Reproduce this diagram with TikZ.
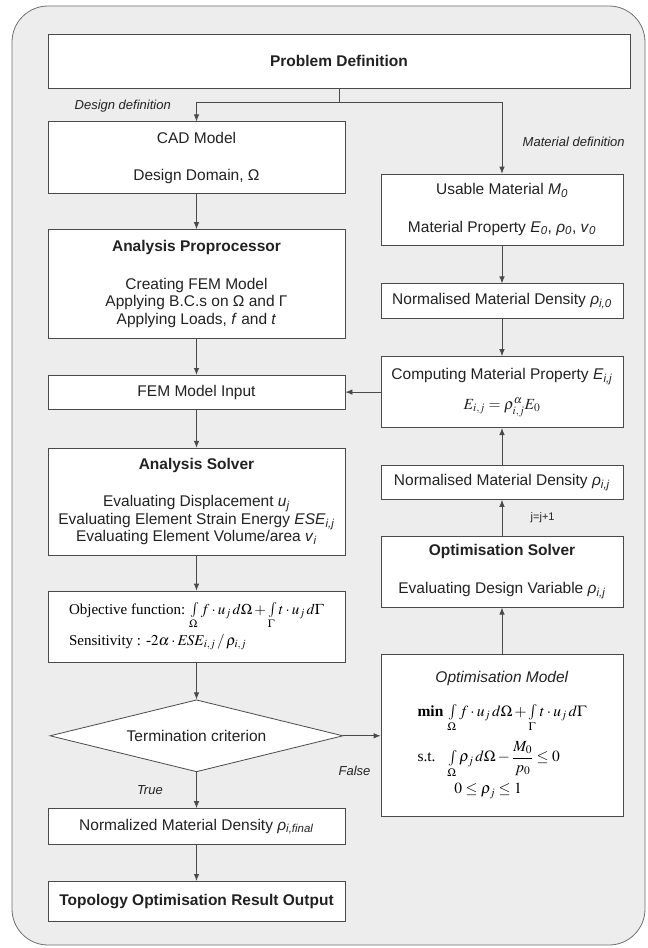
\documentclass[tikz,border=0pt]{standalone}
\usepackage{amsmath}
\usepackage{mathptmx}
\usepackage[no-math]{fontspec}
\setmainfont{Liberation Sans}
\newfontfamily\timesfont{Liberation Serif}
\usepackage{tikz}
\usetikzlibrary{arrows.meta,positioning,shapes.geometric}
\definecolor{pagebg}{HTML}{EDEDED}
\definecolor{frameline}{HTML}{707070}
\definecolor{boxline}{HTML}{4A4A4A}
\definecolor{inkgray}{HTML}{222222}
\newcommand{\vsub}[2]{\textit{#1}\textsubscript{\textit{#2}}}

\begin{document}
\begin{tikzpicture}[x=1pt,y=-1pt,
    box/.style={draw=boxline,fill=white,line width=0.8pt,minimum width=297pt,
                inner sep=2pt,align=center,text=inkgray,
                font=\fontsize{15.5}{17.5}\selectfont},
    rbox/.style={box,minimum width=242pt},
    decision/.style={diamond,draw=boxline,fill=white,line width=0.8pt,aspect=4,
                     minimum width=293pt,minimum height=72pt,inner sep=0pt,
                     text=inkgray,font=\fontsize{15.5}{17.5}\selectfont},
    arr/.style={draw=boxline,line width=0.8pt,-{Latex[length=7pt,width=5.5pt]}},
    link/.style={draw=boxline,line width=0.8pt},
    lbl/.style={text=inkgray,font=\itshape\fontsize{13}{15}\selectfont}]
  \useasboundingbox (0,0) rectangle (648,948);
  \draw[fill=pagebg,draw=frameline,line width=0.8pt,rounded corners=36pt]
    (12,6) rectangle (645,945);

  % left column
  \node[box,minimum width=582pt,minimum height=54pt] (prob) at (339,61)
    {\textbf{Problem Definition}};
  \node[box,minimum height=72pt,below=33pt of prob.south west,anchor=north west] (cad)
    {CAD Model\\[20pt]Design Domain, Ω};
  \node[box,minimum height=109pt,below=35pt of cad] (pre)
    {\textbf{Analysis Proprocessor}\\[20pt]
     Creating FEM Model\\
     Applying B.C.s on Ω and Γ\\
     Applying Loads, \textit{f} and \textit{t}};
  \node[box,minimum height=34pt,below=36pt of pre] (fem) {FEM Model Input};
  \node[box,minimum height=107pt,below=38pt of fem] (solv)
    {\textbf{Analysis Solver}\\[20pt]
     Evaluating Displacement \vsub{u}{j}\\
     Evaluating Element Strain Energy \vsub{ESE}{i,j}\\
     Evaluating Element Volume/area \vsub{v}{i}};
  \node[box,minimum height=71pt,below=35pt of solv,align=left,
        font=\timesfont\fontsize{15}{17}\selectfont,text=black] (obj)
    {Objective function: $\int\limits_{\Omega} f\cdot u_j\,d\Omega+\int\limits_{\Gamma} t\cdot u_j\,d\Gamma$\\[4pt]
     Sensitivity : $\text{-}2\alpha\cdot \mathit{ESE}_{i,j}\,/\,\rho_{i,j}$};
  \node[decision,below=37pt of obj] (term) {Termination criterion};
  \node[box,minimum height=36pt,below=36pt of term] (fin)
    {Normalized Material Density \vsub{ρ}{i,final}};
  \node[box,minimum height=40pt,below=36pt of fin] (topo)
    {\textbf{Topology Optimisation Result Output}};

  % right column
  \node[rbox,minimum height=71pt] (use) at (502,209.5)
    {Usable Material \vsub{M}{0}\\[20pt]Material Property \vsub{E}{0}, \vsub{ρ}{0}, \vsub{v}{0}};
  \node[rbox,minimum height=35pt,below=38pt of use] (rhozero)
    {Normalised Material Density \vsub{ρ}{i,0}};
  \node[rbox,minimum height=71pt,below=37pt of rhozero] (comp)
    {Computing Material Property \vsub{E}{i,j}\\[13pt]
     $E_{i,j}=\rho_{i,j}^{\alpha}E_0$};
  \node[rbox,minimum height=34pt,below=37pt of comp] (rhoij)
    {Normalised Material Density \vsub{ρ}{i,j}};
  \node[rbox,minimum height=71pt,below=36pt of rhoij] (osol)
    {\textbf{Optimisation Solver}\\[20pt]Evaluating Design Variable \vsub{ρ}{i,j}};
  \node[rbox,minimum height=162pt,below=46pt of osol] (omod)
    {\textit{Optimisation Model}\\[18pt]
     {\timesfont\color{black}%
     \begin{tabular}{@{}l@{\hspace{5pt}}l@{}}
       \textbf{min} & $\int\limits_{\Omega} f\cdot u_j\,d\Omega+\int\limits_{\Gamma} t\cdot u_j\,d\Gamma$\\
       \noalign{\vskip 9pt}
       s.t. & $\int\limits_{\Omega}\rho_j\,d\Omega-\dfrac{M_0}{p_0}\le 0$\\
       \noalign{\vskip 4pt}
            & \hspace{6pt}$0\le\rho_j\le 1$
     \end{tabular}}};

  % connectors
  \draw[link] (prob.south) -- ++(0,14) coordinate (split);
  \draw[arr] (split) -| node[lbl,pos=.5,left=22pt,yshift=-4pt] {Design definition} (cad.north);
  \draw[arr] (split) -| node[lbl,pos=.75,right=17pt,yshift=-4pt] {Material definition} (use.north);
  \draw[arr] (cad) -- (pre);
  \draw[arr] (pre) -- (fem);
  \draw[arr] (fem) -- (solv);
  \draw[arr] (solv) -- (obj);
  \draw[arr] (obj) -- (term);
  \draw[arr] (term) -- node[lbl,left=30pt] {True} (fin);
  \draw[arr] (fin) -- (topo);
  \draw[arr] (use) -- (rhozero);
  \draw[arr] (rhozero) -- (comp);
  \draw[arr] (comp.west) -- (comp.west -| fem.east);
  \draw[arr] (rhoij) -- (comp);
  \draw[arr] (osol) -- node[right=25pt,text=inkgray,font=\fontsize{11}{13}\selectfont] {j=j+1} (rhoij);
  \draw[arr] (omod) -- (osol);
  \draw[arr] (term.east) -- node[lbl,pos=.3,below=27pt] {False} (term.east -| omod.west);
\end{tikzpicture}
\end{document}
